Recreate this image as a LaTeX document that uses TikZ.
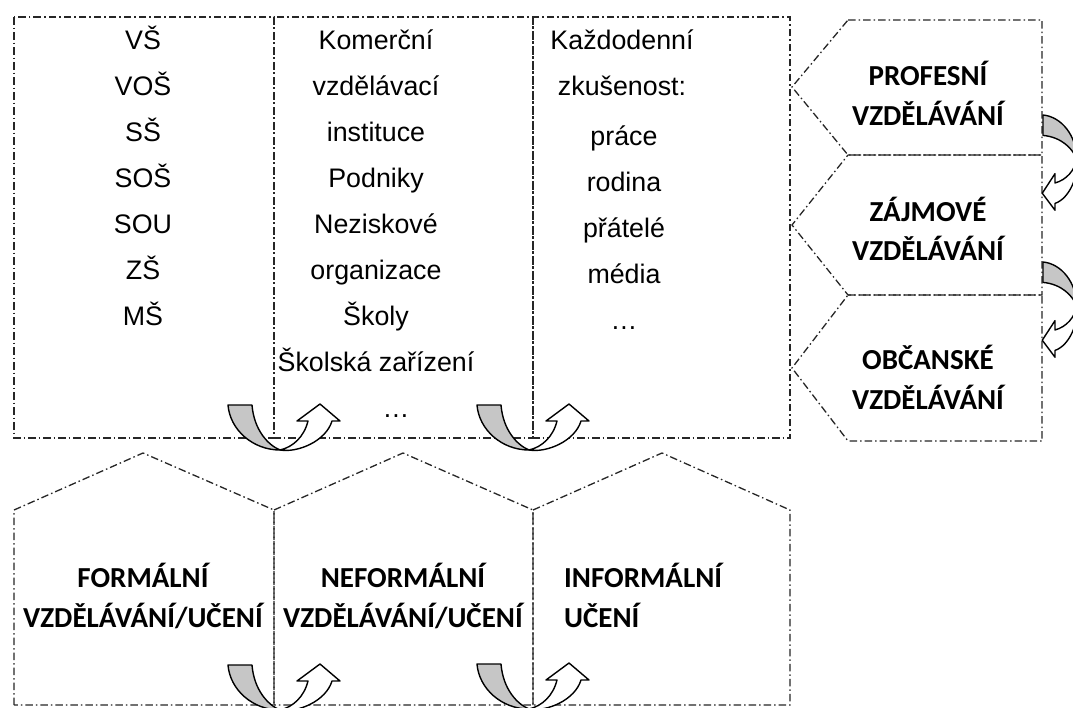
\documentclass[tikz,border=0pt]{standalone}
\usepackage{fontspec}
\setmainfont{Liberation Sans}
\newfontfamily\calib{Carlito}
\newcommand\uturnshape{%
  \filldraw[fill=gray!45, draw=black, line width=1.4pt, line join=round]
    (0,0) -- (24,0) .. controls (26,25) and (40,40) .. (52,45)
    .. controls (25,45) and (2,25) .. (0,0) -- cycle;
  \filldraw[fill=white, draw=black, line width=1.4pt, line join=round]
    (52,45) .. controls (70,48) and (98,36) .. (104,16) -- (112,16) -- (92,-1)
    -- (69,16) -- (80,16) .. controls (76,32) and (65,42) .. (52,45) -- cycle;
}
\begin{document}
\begin{tikzpicture}[x=1pt,y=-1pt,
  dd/.style={line width=1.3pt, draw=black!85, dash pattern=on 7.5pt off 3pt on 1.5pt off 3pt},
  reg/.style={font=\fontsize{26.8}{30}\selectfont, inner sep=0pt, anchor=base},
  bld/.style={font=\calib\bfseries\fontsize{29}{32}\selectfont, inner sep=0pt, anchor=base}]
\useasboundingbox (0,0) rectangle (1073,707);
\clip (0,0) rectangle (1073,707);
\fill[white] (0,0) rectangle (1073,707);

% top boxes
\draw[dd] (14,17) rectangle (274,438);
\draw[dd] (274,17) rectangle (533,438);
\draw[dd] (533,17) rectangle (790,438);

% right pentagons
\draw[dd] (848,20) -- (1042,20) -- (1042,155) -- (848,155) -- (792,87) -- cycle;
\draw[dd] (848,155) -- (1042,155) -- (1042,295) -- (848,295) -- (792,225) -- cycle;
\draw[dd] (848,295) -- (1042,295) -- (1042,441) -- (848,441) -- (792,368) -- cycle;

% bottom houses
\draw[dd] (14,705) -- (14,510) -- (143,453) -- (274,510) -- (274,705) -- cycle;
\draw[dd] (274,705) -- (274,510) -- (403,453) -- (533,510) -- (533,705) -- cycle;
\draw[dd] (533,705) -- (533,510) -- (662,453) -- (790,510) -- (790,705) -- cycle;

% top texts
\foreach \t [count=\i] in {VŠ,VOŠ,SŠ,SOŠ,SOU,ZŠ,MŠ}
  \node[reg] (a\i) at (143,{49+46*(\i-1)}) {\t};
\foreach \t [count=\i] in {Komerční,vzdělávací,instituce,Podniky,Neziskové,organizace,Školy,Školská zařízení}
  \node[reg] (b\i) at (376,{49+46*(\i-1)}) {\t};
\node[reg] (b9) at (396,417) {…};
\node[reg] (c1) at (622,49) {Každodenní};
\node[reg] (c2) at (622,95) {zkušenost:};
\foreach \t [count=\i] in {práce,rodina,přátelé,média,…}
  \node[reg] (c\i x) at (624,{145+46*(\i-1)}) {\t};

% right texts
\node[bld] (p1) at (928,85) {PROFESNÍ};
\node[bld] (p2) at (928,125) {VZDĚLÁVÁNÍ};
\node[bld] (z1) at (928,221) {ZÁJMOVÉ};
\node[bld] (z2) at (928,260) {VZDĚLÁVÁNÍ};
\node[bld] (o1) at (928,369) {OBČANSKÉ};
\node[bld] (o2) at (928,409) {VZDĚLÁVÁNÍ};

% bottom texts
\node[bld] (f1) at (143,587) {FORMÁLNÍ};
\node[bld] (f2) at (143,627) {VZDĚLÁVÁNÍ/UČENÍ};
\node[bld] (n1) at (403,587) {NEFORMÁLNÍ};
\node[bld] (n2) at (403,627) {VZDĚLÁVÁNÍ/UČENÍ};
\node[bld, anchor=base west] (i1) at (564,587) {INFORMÁLNÍ};
\node[bld, anchor=base west] (i2) at (564,627) {UČENÍ};

% U-turn arrows
\begin{scope}[shift={(228,405)}]\uturnshape\end{scope}
\begin{scope}[shift={(477,405)}]\uturnshape\end{scope}
\begin{scope}[shift={(228,665)}]\uturnshape\end{scope}
\begin{scope}[shift={(477,664)}]\uturnshape\end{scope}
\begin{scope}[shift={(1043,115)}, x={(0pt,-0.85pt)}, y={(0.75pt,0pt)}]\uturnshape\end{scope}
\begin{scope}[shift={(1043,262)}, x={(0pt,-0.85pt)}, y={(0.75pt,0pt)}]\uturnshape\end{scope}
\end{tikzpicture}
\end{document}
